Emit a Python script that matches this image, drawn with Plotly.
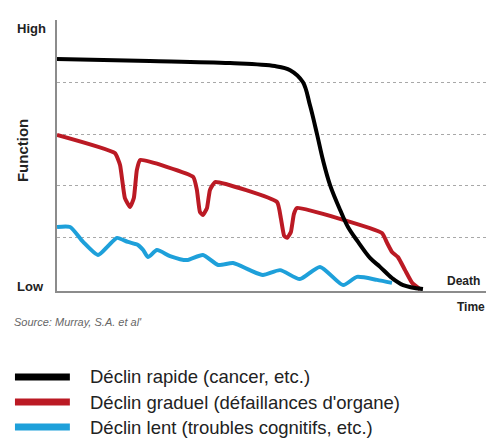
import plotly.graph_objects as go

# Trajectories (time 0..115, function 0..100)
black_x = [0, 24.9, 46.4, 58.4, 62.5, 65.9, 67.8, 69.7, 71.3, 73.2, 75.9, 78.0, 80.7, 83.9, 86.6, 89.8, 92.8, 98.1]
black_y = [85.6, 84.9, 84.1, 83.0, 81.5, 77.1, 68.6, 57.9, 48.3, 39.1, 29.9, 23.6, 18.1, 12.2, 8.9, 4.8, 2.2, 0.7]

red_x = [0, 15.5, 16.9, 18.2, 19.6, 20.6, 21.4, 22.3, 36.5, 37.5, 38.3, 39.1, 40.2, 41.0, 42.4,
         59.0, 60.0, 60.9, 61.7, 62.7, 63.5, 64.3, 87.1, 88.5, 89.8, 91.4, 93.3, 95.2, 97.3]
red_y = [57.6, 50.9, 46.5, 34.3, 31.0, 34.3, 44.6, 48.3, 42.1, 37.3, 29.2, 28.0, 30.6, 37.3, 40.2,
         32.8, 26.9, 20.3, 19.6, 21.8, 28.4, 30.6, 21.4, 17.7, 14.4, 12.5, 7.7, 3.0, 0.7]

blue_x = [0, 3.5, 7.0, 11.0, 13.7, 16.1, 19.0, 21.7, 23.1, 24.4, 26.8, 30.3, 34.8, 39.1, 43.2, 47.2,
          51.7, 55.2, 59.8, 65.1, 70.5, 76.7, 80.4, 85.8, 89.8]
blue_y = [23.6, 23.6, 18.1, 13.3, 16.6, 19.6, 18.1, 17.0, 15.1, 12.5, 15.1, 12.9, 11.4, 13.3, 9.6, 10.3,
          7.7, 5.9, 7.7, 4.4, 8.9, 2.2, 5.2, 4.1, 3.0]

grid_levels = [19.6, 39.1, 57.9, 77.1]

series_names = ["Déclin rapide (cancer, etc.)",
                "Déclin graduel (défaillances d'organe)",
                "Déclin lent (troubles cognitifs, etc.)"]
series_colors = ["#000000", "#bb1a24", "#1ea0da"]

FONT = "Liberation Sans, Arial, sans-serif"

fig = go.Figure()
fig.add_trace(go.Scatter(x=blue_x, y=blue_y, mode="lines",
                         line=dict(color=series_colors[2], width=4, shape="spline", smoothing=0.6),
                         showlegend=False, hoverinfo="skip"))
fig.add_trace(go.Scatter(x=red_x, y=red_y, mode="lines",
                         line=dict(color=series_colors[1], width=4, shape="spline", smoothing=0.4),
                         showlegend=False, hoverinfo="skip"))
fig.add_trace(go.Scatter(x=black_x, y=black_y, mode="lines",
                         line=dict(color=series_colors[0], width=4, shape="spline", smoothing=1.0),
                         showlegend=False, hoverinfo="skip"))

fig.update_layout(
    width=486, height=447,
    margin=dict(l=57, r=0, t=20, b=156),
    paper_bgcolor="white", plot_bgcolor="white",
    font=dict(family=FONT, color="#222"),
    xaxis=dict(range=[0, 115], showgrid=False, zeroline=False, showticklabels=False,
               showline=True, linecolor="#8c8c8c", linewidth=2, ticks=""),
    yaxis=dict(range=[0, 100], tickvals=grid_levels, showticklabels=False, ticks="",
               showgrid=True, gridcolor="#a8a8a8", griddash="dot", gridwidth=1,
               zeroline=False, showline=True, linecolor="#8c8c8c", linewidth=2),
)

ann = [
    dict(text="<b>High</b>", x=-0.098, y=0.970, size=13),
    dict(text="<b>Low</b>", x=-0.098, y=0.015, size=13),
    dict(text="<b>Death</b>", x=0.904, y=0.037, size=12),
    dict(text="<b>Time</b>", x=0.928, y=-0.059, size=12),
]
for a in ann:
    fig.add_annotation(text=a["text"], x=a["x"], y=a["y"], xref="paper", yref="paper",
                       xanchor="left", yanchor="middle", showarrow=False,
                       font=dict(size=a["size"], color="#222", family=FONT))
fig.add_annotation(text="<b>Function</b>", x=-0.0816, y=0.52, xref="paper", yref="paper",
                   xanchor="center", yanchor="middle", textangle=-90, showarrow=False,
                   font=dict(size=15, color="#222", family=FONT))
fig.add_annotation(text="<i>Source: Murray, S.A. et al'</i>", x=-0.105, y=-0.114,
                   xref="paper", yref="paper", xanchor="left", yanchor="middle",
                   showarrow=False, font=dict(size=11, color="#666", family=FONT))

legend_y = [-0.317, -0.410, -0.502]
for name, col, ly in zip(series_names, series_colors, legend_y):
    fig.add_shape(type="line", xref="paper", yref="paper", x0=-0.098, x1=0.030, y0=ly, y1=ly,
                  line=dict(color=col, width=7))
    fig.add_annotation(text=name, x=0.0723, y=ly, xref="paper", yref="paper",
                       xanchor="left", yanchor="middle", showarrow=False,
                       font=dict(size=18.5, color="#222", family=FONT))

fig.write_html("out.html", config={"displayModeBar": False},
               post_script="document.body.style.margin='0';")
